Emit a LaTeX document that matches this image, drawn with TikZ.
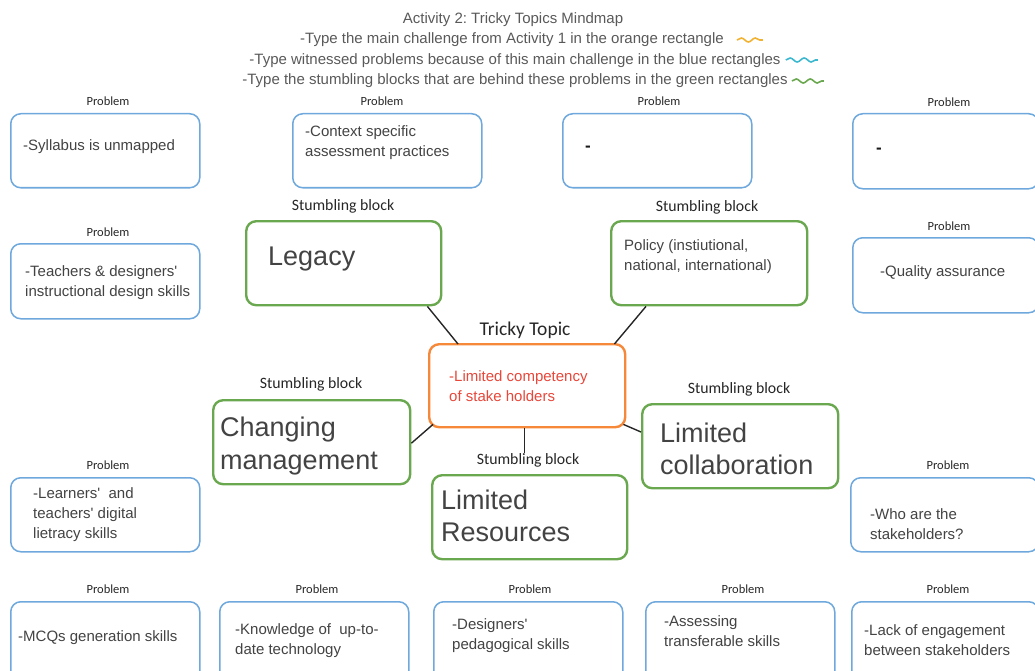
\documentclass[tikz,border=0pt]{standalone}
\usepackage{fontspec}
\setmainfont{Liberation Sans}
\newfontfamily\calfont{Carlito}
\usetikzlibrary{calc,decorations.pathmorphing}
\definecolor{pblue}{HTML}{6FA8DC}
\definecolor{sgreen}{HTML}{6AA84F}
\definecolor{torange}{HTML}{F6883A}
\definecolor{tred}{HTML}{E8473A}
\definecolor{tgray}{HTML}{434343}
\definecolor{hgray}{HTML}{595959}
\definecolor{sqyel}{HTML}{F1B232}
\definecolor{sqcyan}{HTML}{3BB7D0}
\tikzset{
  box/.style={draw, rounded corners=10pt, fill=white, anchor=north west, inner sep=0pt},
  pbox/.style={box, draw=pblue, line width=1.5pt},
  gbox/.style={box, draw=sgreen, line width=2.4pt},
  obox/.style={box, draw=torange, line width=2.4pt},
  txt/.style={anchor=west, align=left, inner sep=0pt, text=tgray, font=\fontsize{15}{20}\selectfont},
  dashtxt/.style={anchor=base west, inner sep=0pt, text=black!90, font=\bfseries\fontsize{17}{20}\selectfont},
  bigtxt/.style={anchor=west, align=left, inner sep=0pt, text=tgray, font=\fontsize{27}{32.5}\selectfont},
  head/.style={inner sep=0pt, text=hgray, font=\fontsize{15}{20}\selectfont},
  plabel/.style={inner sep=0pt, text=black!85, font=\calfont\fontsize{12.5}{14}\selectfont},
  slabel/.style={inner sep=0pt, text=black!85, font=\calfont\fontsize{15.8}{18}\selectfont},
  conn/.style={draw=black!85, line width=1.4pt},
  squig/.style={line width=1.6pt, decorate, decoration={snake, segment length=14pt, amplitude=2pt}},
}
\begin{document}
\frenchspacing
\begin{tikzpicture}[x=1pt,y=-1pt]
\path[use as bounding box] (0,0) rectangle (1035,671);

% header
\node[head] (t1) at (513,20) {Activity 2: Tricky Topics Mindmap};
\node[head] (t2) at (512,40) {-Type the main challenge from Activity 1 in the orange rectangle};
\node[head] (t3) at (515,61) {-Type witnessed problems because of this main challenge in the blue rectangles};
\node[head] (t4) at (515,81) {-Type the stumbling blocks that are behind these problems in the green rectangles};
\draw[squig, sqyel] ($(t2.east)+(13,0)$) -- ++(26,0);
\draw[squig, sqcyan] ($(t3.east)+(5,-1)$) -- ++(32,0);
\draw[squig, sgreen] ($(t4.east)+(4,0)$) -- ++(32,0);

% stumbling-block boxes and centre
\node[obox, minimum width=196pt, minimum height=83pt] (o) at (428,343) {};
\node[gbox, minimum width=195pt, minimum height=84pt] (g1) at (245,220) {};
\node[gbox, minimum width=196pt, minimum height=84pt] (g2) at (610,220) {};
\node[gbox, minimum width=197pt, minimum height=84pt] (g3) at (212,399) {};
\node[gbox, minimum width=195pt, minimum height=84pt] (g4) at (431,474) {};
\node[gbox, minimum width=196pt, minimum height=84pt] (g5) at (641,403) {};
\node[slabel] (l4) at (528,460) {Stumbling block};

% connectors
\path[conn] ([xshift=-15pt]g1.south east) -- ([xshift=30pt,yshift=-1pt]o.north west);
\path[conn] ([xshift=36pt]g2.south west) -- ([xshift=-12pt,yshift=-1pt]o.north east);
\path[conn] ([yshift=-1pt]g3.east) -- ([xshift=5pt,yshift=4pt]o.south west);
\path[conn] ([xshift=-2.5pt]o.south) -- ([xshift=-2.5pt]o.south |- l4.north);
\path[conn] ([xshift=-3pt,yshift=4pt]o.south east) -- ([yshift=-29pt]g5.north west);

% problem boxes
\node[pbox, minimum width=189pt, minimum height=74pt] (b1) at (10,113) {};
\node[pbox, minimum width=189pt, minimum height=74pt] (b2) at (292,113) {};
\node[pbox, minimum width=189pt, minimum height=74pt] (b3) at (562,113) {};
\node[pbox, minimum width=186pt, minimum height=75pt] (b4) at (852,113) {};
\node[pbox, minimum width=189pt, minimum height=75pt] (b5) at (10,243) {};
\node[pbox, minimum width=186pt, minimum height=75pt] (b6) at (852,237) {};
\node[pbox, minimum width=189pt, minimum height=74pt] (b7) at (10,477) {};
\node[pbox, minimum width=188pt, minimum height=74pt] (b8) at (850,477) {};
\node[pbox, minimum width=189pt, minimum height=80pt] (b9) at (10,601) {};
\node[pbox, minimum width=189pt, minimum height=80pt] (b10) at (219,601) {};
\node[pbox, minimum width=189pt, minimum height=80pt] (b11) at (433,601) {};
\node[pbox, minimum width=189pt, minimum height=80pt] (b12) at (645,601) {};
\node[pbox, minimum width=187pt, minimum height=80pt] (b13) at (851,601) {};

% labels
\node[plabel] (p1) at (108,101) {Problem};
\node[plabel] (p2) at (382,101) {Problem};
\node[plabel] (p3) at (659,101) {Problem};
\node[plabel] (p4) at (949,102) {Problem};
\node[plabel] (p5) at (108,232) {Problem};
\node[plabel] (p6) at (949,226) {Problem};
\node[plabel] (p7) at (108,465) {Problem};
\node[plabel] (p8) at (948,465) {Problem};
\node[plabel] (p9) at (108,589) {Problem};
\node[plabel] (p10) at (317,589) {Problem};
\node[plabel] (p11) at (530,589) {Problem};
\node[plabel] (p12) at (743,589) {Problem};
\node[plabel] (p13) at (948,589) {Problem};
\node[slabel] (l1) at (343,206) {Stumbling block};
\node[slabel] (l2) at (707,207) {Stumbling block};
\node[slabel] (l3) at (311,384) {Stumbling block};
\node[slabel] (l5) at (739,389) {Stumbling block};
\node[inner sep=0pt, text=black!85, font=\calfont\fontsize{19.5}{22}\selectfont] (tt) at (525,330) {Tricky Topic};

% texts
\node[txt] (x1) at (23,147) {-Syllabus is unmapped};
\node[txt] (x2) at (305,143) {-Context specific\\assessment practices};
\node[dashtxt] (x3) at (585,152) {-};
\node[dashtxt] (x4) at (876,154) {-};
\node[txt] (x5) at (25,283) {-Teachers \& designers\textquotesingle\\instructional design skills};
\node[txt] (x6) at (880,273) {-Quality assurance};
\node[txt] (x7) at (33,515) {-Learners\textquotesingle\ \ and\\teachers\textquotesingle\ digital\\lietracy skills};
\node[txt] (x8) at (870,524) {-Who are the\\stakeholders?};
\node[txt] (x9) at (18,638) {-MCQs generation skills};
\node[txt] (x10) at (235,641) {-Knowledge of\ \ up-to-\\date technology};
\node[txt] (x11) at (452,636) {-Designers\textquotesingle\\pedagogical skills};
\node[txt] (x12) at (664,631) {-Assessing\\transferable skills};
\node[txt] (x13) at (864,640) {-Lack of engagement\\between stakeholders};
\node[txt, text=tred] (xo) at (449,386) {-Limited competency\\of stake holders};
\node[bigtxt] (y1) at (268,259) {Legacy};
\node[txt] (y2) at (624,257) {Policy (instiutional,\\national, international)};
\node[bigtxt] (y3) at (220,446) {Changing\\management};
\node[bigtxt] (y4) at (441,516) {Limited\\Resources};
\node[bigtxt] (y5) at (660,449) {Limited\\collaboration};
\end{tikzpicture}
\end{document}
